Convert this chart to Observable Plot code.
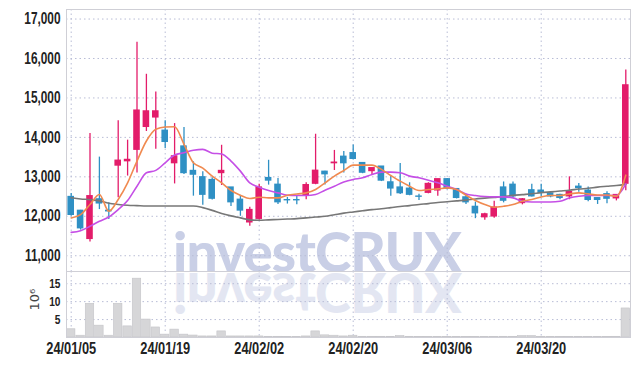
<!DOCTYPE html>
<html>
<head>
<meta charset="utf-8">
<script src="https://cdn.jsdelivr.net/npm/d3@7"></script>
<script src="https://cdn.jsdelivr.net/npm/@observablehq/plot@0.6"></script>
<style>
  html, body { margin: 0; padding: 0; background: #fff; }
  #wrap { position: relative; width: 639px; height: 366px; overflow: hidden; }
  #wrap > svg, #wrap > div { position: absolute; left: 0; }
</style>
</head>
<body>
<div id="wrap"></div>
<script>
const dates = ["24/01/05","24/01/08","24/01/09","24/01/10","24/01/11","24/01/12","24/01/15","24/01/16","24/01/17","24/01/18",
  "24/01/19","24/01/22","24/01/23","24/01/24","24/01/25","24/01/26","24/01/29","24/01/30","24/01/31","24/02/01",
  "24/02/02","24/02/05","24/02/06","24/02/07","24/02/08","24/02/13","24/02/14","24/02/15","24/02/16","24/02/19",
  "24/02/20","24/02/21","24/02/22","24/02/23","24/02/26","24/02/27","24/02/28","24/02/29","24/03/04","24/03/05",
  "24/03/06","24/03/07","24/03/08","24/03/11","24/03/12","24/03/13","24/03/14","24/03/15","24/03/18","24/03/19",
  "24/03/20","24/03/21","24/03/22","24/03/25","24/03/26","24/03/27","24/03/28","24/03/29","24/04/01","24/04/02"];
const open  = [12480,12130,11410,12420,12130,13270,13380,13670,14250,14490,14160,13330,13760,13140,12980,12910,13080,12720,12410,11830,
  11920,12960,12790,12400,12400,12510,12810,13120,13330,13500,13590,13340,13130,13250,12850,12720,12690,12490,12580,12640,
  12930,12680,12470,12230,11960,11980,12720,12790,12320,12650,12640,12570,12530,12490,12740,12640,12450,12550,12440,12810];
const close = [12020,11680,12500,12310,12110,13400,13420,14670,14650,14650,13870,13510,13080,13040,12530,12430,13140,12340,12130,12150,
  12720,12890,12340,12390,12390,12780,13145,13050,13350,13330,13440,13090,13210,12890,12690,12570,12530,12480,12810,12930,
  12680,12450,12340,12060,12040,12210,12380,12490,12420,12490,12580,12490,12450,12610,12700,12400,12400,12430,12530,15310];
const high  = [12580,12150,14100,13500,12340,14420,13930,16410,15600,15150,14420,14350,14250,13380,13130,12980,13800,12720,12530,12230,
  12810,13420,12960,12480,12510,12850,14080,13140,13670,13640,13810,13340,13215,13260,13020,13340,12850,12560,12850,12940,
  12960,12700,12560,12360,12080,12380,12870,12870,12450,12810,12810,12590,12560,13000,12830,12740,12470,12620,12550,15710];
const low   = [12000,11650,11350,12170,11920,12470,13020,13100,14150,13700,13720,12820,13060,12510,12280,12410,12780,12250,12000,11750,
  11900,12790,12300,12310,12290,12420,12800,12790,13160,13100,13430,13080,13050,12880,12510,12550,12520,12400,12570,12510,
  12670,12440,12300,11940,11900,11950,12340,12470,12290,12490,12490,12470,12420,12420,12610,12370,12300,12320,12390,12650];
const volume = [2.3,0.5,9.4,3.3,0.5,9.4,3.1,16.4,5.0,2.8,0.8,2.2,0.8,0.55,0.3,0.3,1.7,0.3,0.3,0.3,
  0.3,0.2,0.2,0.15,0.1,0.3,1.7,0.6,0.5,0.3,0.5,0.2,0.2,0.2,0.2,0.4,0.2,0.15,0.15,0.15,
  0.15,0.15,0.15,0.15,0.15,0.15,0.2,0.2,0.4,0.4,0.2,0.15,0.15,0.15,0.15,0.15,0.15,0.15,0.2,8.1];
const ma5  = [11958,12043,12297,12552,12127,12425,12848,13400,13908,14206,14265,14270,13824,13356,13220,13018,12848,12654,12534,12450,
  12483,12466,12466,12534,12567,12593,12679,12848,13018,13160,13298,13298,13298,13188,13035,12890,12763,12654,12679,12695,
  12720,12679,12534,12400,12297,12229,12254,12297,12382,12425,12491,12527,12527,12567,12593,12567,12540,12540,12509,13043];
const ma20 = [11593,11636,11746,11873,11982,12170,12400,12763,13102,13163,13356,13552,13611,13672,13697,13600,13580,13400,13145,12848,
  12738,12654,12593,12534,12527,12527,12552,12662,12763,12868,12934,12975,13061,13120,13120,13102,13018,12975,12916,12848,
  12763,12679,12567,12527,12500,12491,12491,12466,12382,12364,12364,12364,12382,12466,12509,12527,12527,12527,12527,12822];
const ma60 = [12470,12440,12420,12390,12330,12300,12280,12270,12260,12260,12260,12260,12260,12260,12220,12150,12070,12010,11960,11910,
  11900,11910,11920,11930,11940,11960,11980,12000,12040,12080,12110,12140,12170,12190,12220,12250,12270,12300,12320,12350,
  12370,12390,12410,12440,12460,12480,12500,12530,12550,12570,12600,12620,12640,12660,12690,12710,12740,12760,12780,12810];
const priceTicks = [11000,12000,13000,14000,15000,16000,17000];
const volumeTicks = [5,10,15];
const dateTicks = ["24/01/05","24/01/19","24/02/02","24/02/20","24/03/06","24/03/20"];

const candles = dates.map((d, i) => ({date: d, open: open[i], close: close[i], high: high[i], low: low[i], volume: volume[i],
  up: close[i] >= open[i]}));
const lines = [
  ...dates.map((d, i) => ({date: d, v: ma60[i], s: "ma60"})),
  ...dates.map((d, i) => ({date: d, v: ma20[i], s: "ma20"})),
  ...dates.map((d, i) => ({date: d, v: ma5[i], s: "ma5"}))
];

const RED = "#e31c6a", BLUE = "#2f90c4";
const GRID = "#b9bdd6";
const FONT = "'Liberation Sans', Arial, sans-serif";
const wrap = document.getElementById("wrap");

// watermark (behind the charts)
const wm = d3.create("svg").attr("width", 639).attr("height", 366).style("top", "0px");
const wmFont = "Lato, 'Open Sans', sans-serif";
wm.append("text").attr("x", 317).attr("y", 272).attr("text-anchor", "middle")
  .attr("font-family", wmFont).attr("font-weight", 900)
  .attr("font-size", 55).attr("letter-spacing", -1).attr("fill", "#c9cfe6").text("investCRUX");
wm.append("text").attr("x", 317).attr("y", -273).attr("transform", "scale(1,-1)").attr("text-anchor", "middle")
  .attr("font-family", wmFont).attr("font-weight", 900)
  .attr("font-size", 55).attr("letter-spacing", -1).attr("fill", "#c9cfe6").attr("opacity", 0.5).text("investCRUX");
wrap.appendChild(wm.node());

const xCommon = {type: "band", domain: dates, range: [66, 630], align: 0.5, round: false};

const price = Plot.plot({
  width: 639, height: 272,
  marginLeft: 66, marginRight: 9, marginTop: 9, marginBottom: 0,
  style: {background: "transparent", fontFamily: FONT, fontSize: "16px", fontWeight: "bold", color: "#222"},
  x: {...xCommon, paddingInner: 0.3, paddingOuter: 0.15, axis: null},
  y: {domain: [10575, 17242], ticks: priceTicks, tickFormat: d3.format(","), tickSize: 0, tickPadding: 6, label: null},
  color: {domain: ["ma60", "ma20", "ma5"], range: ["#777777", "#c54fe6", "#f08a50"]},
  marks: [
    Plot.ruleY(priceTicks, {stroke: GRID, strokeDasharray: "1.5,3", strokeWidth: 1}),
    Plot.ruleX(dateTicks, {stroke: GRID, strokeDasharray: "1.5,3", strokeWidth: 1}),
    Plot.ruleX(candles, {x: "date", y1: "low", y2: "high", stroke: d => d.up ? RED : BLUE, strokeWidth: 1.3}),
    Plot.barY(candles, {x: "date", y1: "open", y2: "close", fill: d => d.up ? RED : BLUE, insetTop: -1}),
    Plot.line(lines, {x: "date", y: "v", z: "s", stroke: "s", strokeWidth: 1.6, curve: "monotone-x"}),
    Plot.frame({stroke: "#cfcfd6"})
  ]
});
price.style.top = "0px";
wrap.appendChild(price);

const vol = Plot.plot({
  width: 639, height: 95,
  marginLeft: 66, marginRight: 9, marginTop: 0, marginBottom: 29,
  style: {background: "transparent", fontFamily: FONT, fontSize: "16px", fontWeight: "bold", color: "#222"},
  x: {...xCommon, paddingInner: 0.1, paddingOuter: 0.05, ticks: dateTicks, tickSize: 0, tickPadding: 5, label: null},
  y: {domain: [0, 18.4], ticks: volumeTicks, tickSize: 0, tickPadding: 6, label: null},
  marks: [
    Plot.ruleY(volumeTicks, {stroke: GRID, strokeDasharray: "1.5,3", strokeWidth: 1}),
    Plot.ruleX(dateTicks, {stroke: GRID, strokeDasharray: "1.5,3", strokeWidth: 1}),
    Plot.barY(candles, {x: "date", y: "volume", fill: "#d6d6d8", stroke: "#c4c4c8", strokeWidth: 0.6}),
    Plot.text(["10⁶"], {frameAnchor: "left", dx: -32, dy: 6, rotate: -90, fontWeight: "normal", fontSize: 13,
      fontFamily: "'DejaVu Sans', sans-serif", fill: "#444"}),
    Plot.frame({stroke: "#cfcfd6"})
  ]
});
vol.style.top = "271px";
wrap.appendChild(vol);

// condense the axis tick labels to match the narrow typeface of the reference,
// keeping each label anchored where the axis put it
function condense(svg, sel, factor, size, anchor) {
  svg.querySelectorAll(sel).forEach(t => {
    if (size) t.setAttribute("font-size", size);
    const b0 = t.getBBox();
    const ref0 = anchor === "end" ? b0.x + b0.width : b0.x + b0.width / 2;
    const w = t.getComputedTextLength();
    t.setAttribute("textLength", (w * factor).toFixed(2));
    t.setAttribute("lengthAdjust", "spacingAndGlyphs");
    const b1 = t.getBBox();
    const ref1 = anchor === "end" ? b1.x + b1.width : b1.x + b1.width / 2;
    const cur = parseFloat(t.getAttribute("dx") || "0") || 0;
    t.setAttribute("dx", (cur + ref0 - ref1).toFixed(2));
  });
}
condense(price, 'g[aria-label="y-axis tick label"] text', 0.74, null, "end");
condense(vol, 'g[aria-label="y-axis tick label"] text', 0.78, 13, "end");
condense(vol, 'g[aria-label="x-axis tick label"] text', 0.8, null, "middle");
</script>
</body>
</html>
